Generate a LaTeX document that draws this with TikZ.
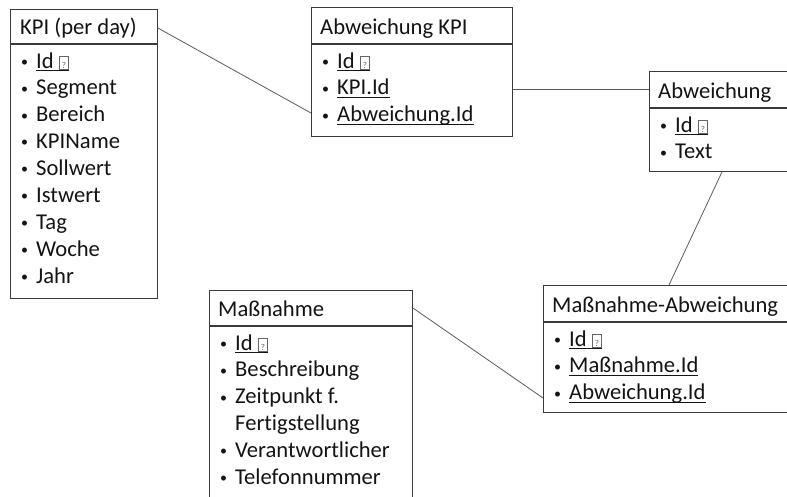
\documentclass[tikz,border=0pt]{standalone}
\usepackage{fontspec}
\setmainfont{Carlito}[Ligatures=NoCommon]
\definecolor{frame}{HTML}{3A3A3A}
\definecolor{link}{HTML}{5A5A5A}
\definecolor{ink}{HTML}{141414}
\definecolor{qgray}{HTML}{666666}
% small framed question mark after primary keys
\newcommand{\pkmark}{\raisebox{0pt}{\setlength{\fboxsep}{0.9pt}\setlength{\fboxrule}{0.6pt}\fcolorbox{qgray}{white}{\rule[-0.3pt]{0pt}{11pt}\makebox[7pt]{\fontsize{9}{9}\selectfont\color{qgray}?}}}}
% underline at a fixed depth below the baseline
\newcommand{\keyline}[1]{\setbox0\hbox{#1}\rlap{\rule[-2.8pt]{\wd0}{1.1pt}}\box0}
% bullet column
\newcommand{\bul}{\makebox[15pt][l]{\raisebox{1.8pt}{\fontsize{14}{14}\selectfont\textbullet}}}
\newcommand{\nobul}{\makebox[15pt][l]{}}
\begin{document}
\begin{tikzpicture}[x=1pt,y=-1pt,
  tbl/.style={draw=frame, line width=0.9pt, anchor=north west, inner sep=0pt, fill=white},
  sep/.style={draw=frame, line width=1.5pt},
  conn/.style={draw=link, line width=0.8pt},
  ttl/.style={anchor=base west, inner sep=0pt, text=ink, font=\fontsize{22.6}{27}\selectfont},
  item/.style={anchor=base west, inner sep=0pt, text=ink, font=\fontsize{22.6}{27}\selectfont}]
\useasboundingbox (0,0) rectangle (787,496);
\clip (0,0) rectangle (787,496);

% KPI (per day)
\node[tbl, minimum width=147pt, minimum height=289pt] (kpi) at (10,9) {};
\draw[sep] ([yshift=-35pt]kpi.north west) -- ([yshift=-35pt]kpi.north east);
\node[ttl] (kpiT) at (20,34) {KPI (per day)};
\node[item] (kpi1) at (21,68) {\bul\keyline{Id \pkmark}};
\node[item] (kpi2) at (21,94.9) {\bul Segment};
\node[item] (kpi3) at (21,121.8) {\bul Bereich};
\node[item] (kpi4) at (21,148.7) {\bul KPIName};
\node[item] (kpi5) at (21,175.6) {\bul Sollwert};
\node[item] (kpi6) at (21,202.5) {\bul Istwert};
\node[item] (kpi7) at (21,229.4) {\bul Tag};
\node[item] (kpi8) at (21,256.3) {\bul Woche};
\node[item] (kpi9) at (21,283.2) {\bul Jahr};

% Abweichung KPI
\node[tbl, minimum width=201pt, minimum height=129pt] (akpi) at (311,7) {};
\draw[sep] ([yshift=-37pt]akpi.north west) -- ([yshift=-37pt]akpi.north east);
\node[ttl] (akpiT) at (320,34) {Abweichung KPI};
\node[item] (akpi1) at (322,68) {\bul\keyline{Id \pkmark}};
\node[item] (akpi2) at (322,94.9) {\bul\keyline{KPI.Id}};
\node[item] (akpi3) at (322,121.8) {\bul\keyline{Abweichung.Id}};

% Abweichung
\node[tbl, minimum width=160pt, minimum height=100pt] (abw) at (649,71) {};
\draw[sep] ([yshift=-37pt]abw.north west) -- ([yshift=-37pt]abw.north east);
\node[ttl] (abwT) at (658,98) {Abweichung};
\node[item] (abw1) at (660,132) {\bul\keyline{Id \pkmark}};
\node[item] (abw2) at (660,158.9) {\bul Text};

% Massnahme-Abweichung
\node[tbl, minimum width=260pt, minimum height=127pt] (ma) at (543,285) {};
\draw[sep] ([yshift=-37pt]ma.north west) -- ([yshift=-37pt]ma.north east);
\node[ttl] (maT) at (552,312) {Maßnahme-Abweichung};
\node[item] (ma1) at (554,346) {\bul\keyline{Id \pkmark}};
\node[item] (ma2) at (554,372.9) {\bul\keyline{Maßnahme.Id}};
\node[item] (ma3) at (554,399.8) {\bul\keyline{Abweichung.Id}};

% Massnahme
\node[tbl, minimum width=203pt, minimum height=225pt] (mn) at (209,290) {};
\draw[sep] ([yshift=-36pt]mn.north west) -- ([yshift=-36pt]mn.north east);
\node[ttl] (mnT) at (218,316) {Maßnahme};
\node[item] (mn1) at (220,350) {\bul\keyline{Id \pkmark}};
\node[item] (mn2) at (220,376.9) {\bul Beschreibung};
\node[item] (mn3) at (220,403.8) {\bul Zeitpunkt f.};
\node[item] (mn4) at (220,430.7) {\nobul Fertigstellung};
\node[item] (mn5) at (220,457.6) {\bul Verantwortlicher};
\node[item] (mn6) at (220,484.5) {\bul Telefonnummer};

% relations
\draw[conn] ([yshift=-19pt]kpi.north east) -- ([yshift=-106pt]akpi.north west);
\draw[conn] ([yshift=-82pt]akpi.north east) -- ([yshift=-18pt]abw.north west);
\draw[conn] ([xshift=73pt]abw.south west) -- ([xshift=126pt]ma.north west);
\draw[conn] ([yshift=-18pt]mn.north east) -- ([yshift=-113pt]ma.north west);
\end{tikzpicture}
\end{document}
